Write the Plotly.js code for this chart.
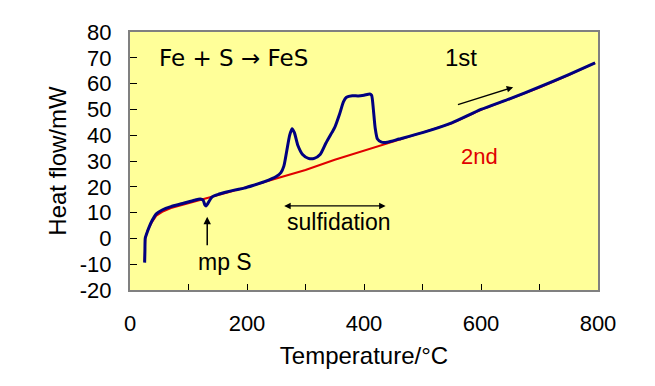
<!DOCTYPE html>
<html>
<head>
<meta charset="utf-8">
<script src="https://cdn.plot.ly/plotly-3.0.1.min.js"></script>
<style>html,body{margin:0;padding:0;background:#fff;}#chart{width:655px;height:386px;}</style>
</head>
<body>
<div id="chart"></div>
<script>
// 1st run (blue)
const tempFirst = [25,25.5,26,28,32,38,45,55,70,90,110,120,125,128,130,133,140,150,165,180,195,210,230,250,258,263,268,273,277,281,287,295,305,315,325,335,345,350,358,365,370,380,390,400,410,413,416,419,423,430,440,460,500,550,600,650,700,750,795];
const heatFirst = [-9.4,-5,0,1.5,4,7,9.5,11,12.3,13.5,14.8,15.3,14.8,13,12.6,13.5,16,17,18,18.8,19.5,20.5,22,24,25.5,28,34,40,42.5,41,36,32.5,31,31,32.5,37,41,43,48,53,54.7,55.3,55.2,55.5,56,55.5,50,43,38.5,37.3,37.3,38.5,41,44.8,50,54.2,58.7,63.5,68];
// 2nd run (red)
const tempSecond = [25,26,30,38,45,55,70,90,110,130,150,170,190,210,250,300,350,400,450,500,550,600,650,700,750,795];
const heatSecond = [-9,0,3,6.5,8.8,10.3,11.8,13,14.3,15.6,16.8,18,19.2,20.5,23.2,26.5,30.5,34,37.5,40.8,44.6,49.8,54,58.5,63.3,68];

const xTicks = [0,200,400,600,800];
const yTicks = [-20,-10,0,10,20,30,40,50,60,70,80];

const sans = "'Liberation Sans', Arial, sans-serif";
const verd = "'DejaVu Sans', Verdana, sans-serif";

const traces = [
  {x: tempSecond, y: heatSecond, mode: 'lines', line: {color: '#E00000', width: 2}, hoverinfo: 'skip'},
  {x: tempFirst, y: heatFirst, mode: 'lines', line: {color: '#000080', width: 3, shape: 'spline', smoothing: 0.6}, hoverinfo: 'skip'}
];

const layout = {
  width: 655, height: 386,
  margin: {l: 130, r: 57, t: 32, b: 96},
  paper_bgcolor: '#ffffff',
  plot_bgcolor: '#FFFF99',
  showlegend: false,
  font: {family: sans, color: '#000', size: 22},
  xaxis: {
    range: [0, 800], tickvals: xTicks, ticktext: xTicks.map(String),
    ticks: 'inside', ticklen: 6, tickcolor: '#000', tickwidth: 1,
    minor: {dtick: 100, ticks: 'inside', ticklen: 6, tickcolor: '#000'},
    showgrid: false, zeroline: false,
    showline: true, mirror: true, linecolor: '#808080', linewidth: 2,
    tickfont: {family: sans, size: 22},
    ticklabelstandoff: 13,
    title: {text: 'Temperature/°C', font: {family: sans, size: 24}, standoff: 12}
  },
  yaxis: {
    range: [-20, 80], tickvals: yTicks, ticktext: yTicks.map(String),
    ticks: 'inside', ticklen: 7, tickcolor: '#000', tickwidth: 1,
    showgrid: false, zeroline: false,
    showline: true, mirror: true, linecolor: '#808080', linewidth: 2,
    tickfont: {family: sans, size: 22},
    ticklabelstandoff: 12,
    title: {text: 'Heat flow/mW', font: {family: sans, size: 24}, standoff: 6}
  },
  annotations: [
    {x: 177, y: 69.9, xref: 'x', yref: 'y', text: 'Fe + S → FeS', showarrow: false, font: {family: verd, size: 23, color: '#000'}},
    {x: 566, y: 70.3, xref: 'x', yref: 'y', text: '1st', showarrow: false, font: {family: sans, size: 24, color: '#000'}},
    {x: 655, y: 58.6, ax: 558, ay: 51.7, xref: 'x', yref: 'y', axref: 'x', ayref: 'y', text: '', showarrow: true, arrowhead: 2, arrowsize: 1, arrowwidth: 1.3, arrowcolor: '#000'},
    {x: 598, y: 31.6, xref: 'x', yref: 'y', text: '2nd', showarrow: false, font: {family: sans, size: 22, color: '#E00000'}},
    {x: 357, y: 6.4, xref: 'x', yref: 'y', text: 'sulfidation', showarrow: false, font: {family: sans, size: 23, color: '#000'}},
    {x: 437, y: 12.6, ax: 261, ay: 12.6, xref: 'x', yref: 'y', axref: 'x', ayref: 'y', text: '', showarrow: true, arrowhead: 2, startarrowhead: 2, arrowside: 'end+start', arrowsize: 1, arrowwidth: 1.3, arrowcolor: '#000'},
    {x: 162, y: -9.1, xref: 'x', yref: 'y', text: 'mp S', showarrow: false, font: {family: sans, size: 23, color: '#000'}},
    {x: 132, y: 8.4, ax: 132, ay: -3.2, xref: 'x', yref: 'y', axref: 'x', ayref: 'y', text: '', showarrow: true, arrowhead: 2, arrowsize: 1, arrowwidth: 1.5, arrowcolor: '#000'}
  ]
};

Plotly.newPlot('chart', traces, layout, {staticPlot: true, displayModeBar: false});
</script>
</body>
</html>
